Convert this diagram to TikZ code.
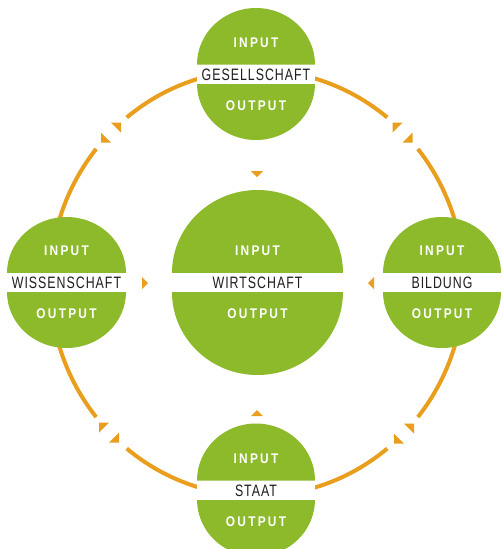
\documentclass[tikz,border=0pt]{standalone}
\usepackage{fontspec}
\setmainfont{Liberation Sans}
\newfontfamily\ioFont[FakeStretch=0.85,LetterSpace=16]{Liberation Sans}
\newfontfamily\bandFont[FakeStretch=0.75,LetterSpace=6]{Liberation Sans}
\definecolor{discgreen}{RGB}{140,186,42}
\definecolor{orbitorange}{RGB}{233,158,30}
\definecolor{labelgray}{RGB}{30,30,30}
\tikzset{
  iotext/.style={inner sep=0pt,anchor=base,text=white,font=\ioFont\bfseries\fontsize{14}{14}\selectfont},
  bandtext/.style={inner sep=0pt,anchor=base,text=labelgray,font=\bandFont\fontsize{16.5}{16.5}\selectfont},
  orbit/.style={draw=orbitorange,line width=4pt,line cap=butt},
  tip/.style={fill=orbitorange},
}
% #1 name, #2 cx, #3 cy, #4 rx, #5 ry, #6 label
\newcommand\SplitDisc[6]{%
  \fill[discgreen] ({#2-#4},{#3-9.5}) arc[start angle=180,end angle=360,x radius=#4,y radius=#5] -- cycle;
  \fill[discgreen] ({#2+#4},{#3+9.5}) arc[start angle=0,end angle=180,x radius=#4,y radius=#5] -- cycle;
  \fill[white] ({#2-#4},{#3-9.5}) rectangle ({#2+#4},{#3+9.5});
  \node[iotext] (#1-in) at (#2,{#3-27}) {INPUT};
  \node[bandtext] (#1) at (#2,{#3+6}) {#6};
  \node[iotext] (#1-out) at (#2,{#3+36}) {OUTPUT};
}
\begin{document}
\begin{tikzpicture}[x=1pt,y=-1pt]
\useasboundingbox (0,0) rectangle (501,549);
\clip (0,0) rectangle (501,549);
\fill[white] (0,0) rectangle (501,549);
% orbit (ellipse centre 257,283; rx 207, ry 213), broken at the diagonals
\coordinate (oc) at (257,283);
\draw[orbit] (oc) ++(51:207 and 213) arc[start angle=51,end angle=129,x radius=207,y radius=213];
\draw[orbit] (oc) ++(141:207 and 213) arc[start angle=141,end angle=219,x radius=207,y radius=213];
\draw[orbit] (oc) ++(231:207 and 213) arc[start angle=231,end angle=309,x radius=207,y radius=213];
\draw[orbit] (oc) ++(321:207 and 213) arc[start angle=321,end angle=399,x radius=207,y radius=213];
% break points
\coordinate (btl) at (111,132.5);
\coordinate (btr) at (402.5,132.5);
\coordinate (bbl) at (109,432.5);
\coordinate (bbr) at (404,433.5);
% pairs of opposite arrow tips at each break
\foreach \b in {btl,bbr}{
  \fill[tip] (\b) ++(0,-10) -- ++(10,0) -- ++(0,10) -- cycle;
  \fill[tip] (\b) ++(0,10) -- ++(-10,0) -- ++(0,-10) -- cycle;
}
\foreach \b in {btr,bbl}{
  \fill[tip] (\b) ++(10,0) -- ++(0,10) -- ++(-10,0) -- cycle;
  \fill[tip] (\b) ++(-10,0) -- ++(0,-10) -- ++(10,0) -- cycle;
}
% discs
\SplitDisc{ges}{256}{74}{59}{56.5}{GESELLSCHAFT}
\SplitDisc{wis}{66.5}{282.5}{59.5}{56}{WISSENSCHAFT}
\SplitDisc{bil}{442}{282.5}{59}{56}{BILDUNG}
\SplitDisc{sta}{256}{490}{59}{57}{STAAT}
\SplitDisc{wir}{257.5}{282.5}{85.5}{83}{WIRTSCHAFT}
% small arrow tips pointing towards the centre disc
\fill[tip] (251,171) -- (263,171) -- (257,177) -- cycle;
\fill[tip] (251,416) -- (263,416) -- (257,410) -- cycle;
\fill[tip] (142,277) -- (142,289) -- (148,283) -- cycle;
\fill[tip] (374,277) -- (374,289) -- (368,283) -- cycle;
\end{tikzpicture}
\end{document}
